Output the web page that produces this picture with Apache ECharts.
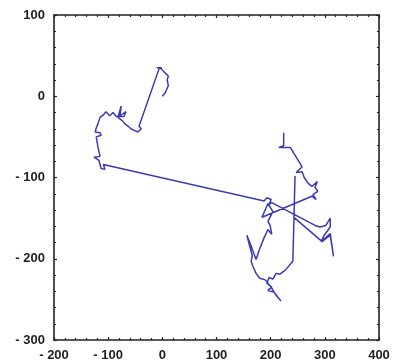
<!DOCTYPE html>
<html>
<head>
<meta charset="utf-8">
<script src="https://cdn.jsdelivr.net/npm/echarts@6/dist/echarts.min.js"></script>
<style>
  html, body { margin: 0; padding: 0; background: #fff; }
  #chart { width: 396px; height: 362px; }
</style>
</head>
<body>
<div id="chart"></div>
<script>
// random walk path (x, y)
var pathX = [0, 5, 11, 9, 11, 3, -2, -10, -1, -6,
  -43, -39, -45, -52, -58, -63, -69, -74, -82, -76,
  -78, -67, -71, -85, -91, -97, -104, -109, -115, -119,
  -122, -124, -115, -113, -122, -119, -115, -126, -117, -113,
  -106, -109,
  188, 193, 201, 197, 202,
  282, 291, 302, 310, 310, 299, 293, 310, 316, 310, 295,
  243, 245, 241,
  227, 217, 210, 204, 197, 193, 202, 195, 206, 213, 219, 210, 201, 190, 180, 173, 167, 164, 166,
  156, 162, 173, 179, 188, 195, 202, 199, 195, 204, 195, 184,
  276, 284, 278, 287, 282, 286, 276, 269, 262, 258, 247, 258,
  239, 236, 215, 224, 224];
var pathY = [0, 4, 13, 20, 25, 30, 34, 35, 35, 34,
  -37, -40, -44, -42, -40, -37, -34, -30, -26, -12,
  -24, -19, -25, -25, -20, -24, -19, -23, -26, -34,
  -39, -44, -45, -48, -50, -62, -74, -75, -79, -89,
  -90, -84,
  -129, -125, -127, -133, -131,
  -159, -161, -159, -150, -161, -171, -179, -169, -197, -171, -179,
  -149, -98, -203,
  -214, -219, -218, -225, -223, -230, -235, -239, -241, -247, -252, -245, -235, -226, -224, -218, -209, -203, -196,
  -171, -181, -201, -189, -174, -164, -170, -159, -154, -142, -132, -149,
  -123, -127, -121, -117, -112, -105, -111, -107, -100, -93, -94, -87,
  -66, -63, -63, -61, -45];

var xMin = -200, xMax = 400, xStep = 100;
var yMin = -300, yMax = 100, yStep = 100;

var points = pathX.map(function (x, i) { return [x, pathY[i]]; });

function tickText(v) {
  return v < 0 ? '- ' + Math.abs(v) : String(v);
}

var labelStyle = {
  color: '#222',
  fontFamily: 'Liberation Sans',
  fontWeight: 'bold',
  fontSize: 13,
  formatter: tickText
};

function makeAxis(pos, min, max, step, showLabel) {
  return {
    type: 'value',
    position: pos,
    min: min,
    max: max,
    interval: step,
    axisLine: { show: true, onZero: false, lineStyle: { color: '#222', width: 1.6 } },
    axisTick: { show: true, inside: true, length: 3, lineStyle: { color: '#222', width: 1.2 } },
    minorTick: { show: true, splitNumber: 5, length: 2, lineStyle: { color: '#222', width: 1.2 } },
    splitLine: { show: false },
    axisLabel: Object.assign({ show: showLabel, margin: 9 }, labelStyle)
  };
}

var chart = echarts.init(document.getElementById('chart'));
chart.setOption({
  animation: false,
  grid: { left: 54, right: 17, top: 15, bottom: 21 },
  xAxis: [
    makeAxis('bottom', xMin, xMax, xStep, true),
    makeAxis('top', xMin, xMax, xStep, false)
  ],
  yAxis: [
    makeAxis('left', yMin, yMax, yStep, true),
    makeAxis('right', yMin, yMax, yStep, false)
  ],
  series: [{
    type: 'line',
    data: points,
    showSymbol: false,
    lineStyle: { color: '#3b3bb3', width: 1.5 }
  }]
});
</script>
</body>
</html>
